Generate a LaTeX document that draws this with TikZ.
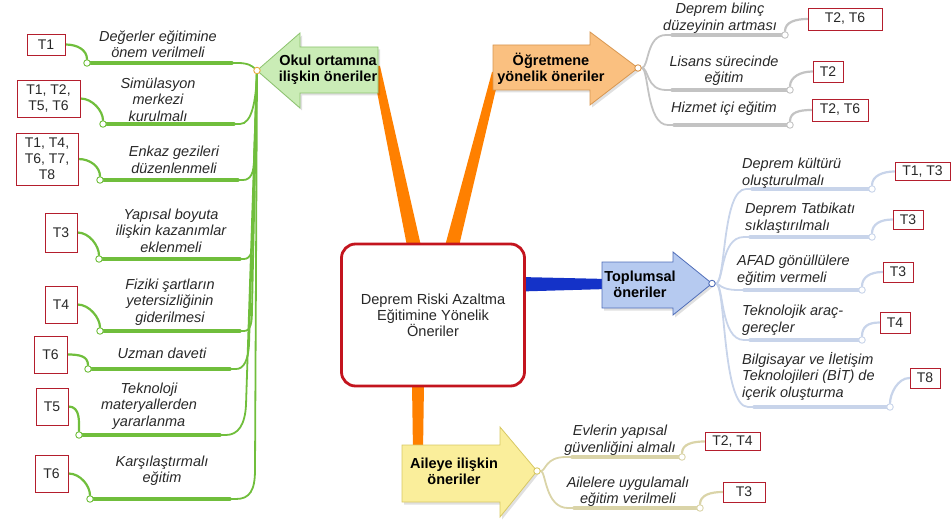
\documentclass[tikz,border=0pt]{standalone}
\usepackage{fontspec}
\setmainfont{Liberation Sans}
\definecolor{okulfill}{RGB}{202,236,182}
\definecolor{okuldraw}{RGB}{140,195,110}
\definecolor{ogfill}{RGB}{250,192,128}
\definecolor{ogdraw}{RGB}{215,150,80}
\definecolor{topfill}{RGB}{182,202,240}
\definecolor{topdraw}{RGB}{80,110,185}
\definecolor{aifill}{RGB}{250,238,155}
\definecolor{aidraw}{RGB}{215,200,100}
\definecolor{branchorange}{RGB}{255,128,0}
\definecolor{branchblue}{RGB}{20,50,200}
\definecolor{leafgreen}{RGB}{112,190,60}
\definecolor{leafgray}{RGB}{195,195,195}
\definecolor{leafblue}{RGB}{200,212,234}
\definecolor{leafolive}{RGB}{218,212,168}
\definecolor{boxred}{RGB}{180,30,45}
\definecolor{centerred}{RGB}{195,20,30}
\definecolor{txtgray}{RGB}{40,40,40}
\definecolor{tipgold}{RGB}{230,170,60}
\pgfdeclarelayer{branchlayer}
\pgfdeclarelayer{linelayer}
\pgfsetlayers{branchlayer,linelayer,main}
\begin{document}
\begin{tikzpicture}[x=1pt,y=-1pt,
  leaftext/.style={font=\fontsize{14.5}{16.5}\selectfont\itshape, text=txtgray, align=center, inner sep=0},
  leafleft/.style={leaftext, align=left, anchor=west},
  refbox/.style={draw=boxred, line width=0.9pt, fill=white, font=\fontsize{14}{16}\selectfont, text=txtgray, inner sep=0, align=center},
  knot/.style={circle, draw=#1, fill=white, line width=0.9pt, minimum size=6.5pt, inner sep=0},
  armtext/.style={font=\fontsize{14.5}{16}\selectfont\bfseries, align=center, inner sep=0, text=black},
  leafstem/.style={draw=#1, line width=1.8pt, line cap=round},
  leafbar/.style={draw=#1, line width=3.4pt, line cap=round},
  leaflink/.style={draw=#1, line width=2.2pt, line cap=round},
  armshadow/.style={fill=black, opacity=0.12},
]
\useasboundingbox (0,0) rectangle (952,521);

% ---------- main branches from the centre ----------
\begin{pgfonlayer}{branchlayer}
  \fill[branchorange] (372,66) -- (380,66) -- (421,246) -- (407,246) -- cycle;
  \fill[branchorange] (445,246) -- (459,246) -- (500,72) -- (492,72) -- cycle;
  \fill[branchorange] (412,384) -- (424,384) -- (423,452) -- (413,452) -- cycle;
  \fill[branchblue] (520,277) -- (520,291.5) -- (608,289) -- (608,279) -- cycle;
\end{pgfonlayer}

% ---------- central topic ----------
\node[draw=centerred, line width=2.8pt, rounded corners=14pt, fill=white,
      minimum width=183pt, minimum height=142pt, align=center, text=txtgray,
      font=\fontsize{14.6}{16}\selectfont] (root) at (433,315)
      {Deprem Riski Azaltma\\Eğitimine Yönelik\\Öneriler};

% ---------- arrow shaped sub-topics ----------
\begin{scope}[shift={(2,2.5)}]
  \fill[armshadow] (378,47) -- (300,47) -- (300,33) -- (257,70.5) -- (300,108) -- (300,93) -- (378,93) -- cycle;
  \fill[armshadow] (493,45) -- (590,45) -- (590,32) -- (638,68) -- (590,105) -- (590,90) -- (493,90) -- cycle;
  \fill[armshadow] (602,262) -- (673,262) -- (673,252) -- (712,283.5) -- (673,315) -- (673,308) -- (602,308) -- cycle;
  \fill[armshadow] (402,445) -- (500,445) -- (500,427) -- (537,471) -- (500,517) -- (500,502) -- (402,502) -- cycle;
\end{scope}
\filldraw[fill=okulfill, draw=okuldraw, line width=0.8pt]
  (378,47) -- (300,47) -- (300,33) -- (257,70.5) -- (300,108) -- (300,93) -- (378,93) -- cycle;
\filldraw[fill=ogfill, draw=ogdraw, line width=0.8pt]
  (493,45) -- (590,45) -- (590,32) -- (638,68) -- (590,105) -- (590,90) -- (493,90) -- cycle;
\filldraw[fill=topfill, draw=topdraw, line width=0.8pt]
  (602,262) -- (673,262) -- (673,252) -- (712,283.5) -- (673,315) -- (673,308) -- (602,308) -- cycle;
\filldraw[fill=aifill, draw=aidraw, line width=0.8pt]
  (402,445) -- (500,445) -- (500,427) -- (537,471) -- (500,517) -- (500,502) -- (402,502) -- cycle;

\node[armtext] (okul) at (328,70) {Okul ortamına\\ilişkin öneriler};
\node[armtext] (ogretmen) at (551,69) {Öğretmene\\yönelik öneriler};
\node[armtext] (toplum) at (640,284.5) {Toplumsal\\öneriler};
\node[armtext] (aile) at (454,471) {Aileye ilişkin\\öneriler};

% ---------- knots at the arrow tips ----------
\node[knot=tipgold] (okultip) at (257,70.5) {};
\node[knot=ogdraw] (ogtip) at (638,68) {};
\node[knot=topdraw] (toptip) at (712,283.5) {};
\node[knot=aidraw] (aitip) at (537,471) {};

% ---------- school branch (left) ----------
\node[leaftext] (l1) at (158,44) {Değerler eğitimine\\önem verilmeli};
\node[leaftext] (l2) at (158,99.5) {Simülasyon\\merkezi\\kurulmalı};
\node[leaftext] (l3) at (174,160) {Enkaz gezileri\\düzenlenmeli};
\node[leaftext] (l4) at (171,230.5) {Yapısal boyuta\\ilişkin kazanımlar\\eklenmeli};
\node[leaftext] (l5) at (170,302) {Fiziki şartların\\yetersizliğinin\\giderilmesi};
\node[leaftext] (l6) at (162,353) {Uzman daveti};
\node[leaftext] (l7) at (149,406) {Teknoloji\\materyallerden\\yararlanma};
\node[leaftext] (l8) at (162,470.5) {Karşılaştırmalı\\eğitim};

\node[knot=leafgreen] (c1) at (87,63) {};
\node[knot=leafgreen] (c2) at (103,124) {};
\node[knot=leafgreen] (c3) at (100,180) {};
\node[knot=leafgreen] (c4) at (99,259) {};
\node[knot=leafgreen] (c5) at (100,331) {};
\node[knot=leafgreen] (c6) at (88,369) {};
\node[knot=leafgreen] (c7) at (79,435) {};
\node[knot=leafgreen] (c8) at (90,499) {};

\node[refbox, minimum width=38pt, minimum height=21pt] (b1) at (46,44.5) {T1};
\node[refbox, minimum width=63pt, minimum height=37pt] (b2) at (48.5,98.5) {T1, T2,\\T5, T6};
\node[refbox, minimum width=62pt, minimum height=52pt] (b3) at (47,159) {T1, T4,\\T6, T7,\\T8};
\node[refbox, minimum width=32pt, minimum height=39pt] (b4) at (61,232.5) {T3};
\node[refbox, minimum width=32pt, minimum height=37pt] (b5) at (61,304.5) {T4};
\node[refbox, minimum width=33pt, minimum height=37pt] (b6) at (50.5,354.5) {T6};
\node[refbox, minimum width=32pt, minimum height=37pt] (b7) at (52,406.5) {T5};
\node[refbox, minimum width=33pt, minimum height=37pt] (b8) at (51.5,473.5) {T6};

\begin{pgfonlayer}{linelayer}
  \draw[leafstem=leafgreen] (c1) -- (238,63) .. controls (248,63) and (252,66) .. (okultip);
  \draw[leafstem=leafgreen] (c2) -- (240,124) .. controls (252,124) and (256,100) .. (okultip);
  \draw[leafstem=leafgreen] (c3) -- (243,180) .. controls (251,180) and (254,172) .. (254,160) -- (okultip);
  \draw[leafstem=leafgreen] (c4) -- (244,259) .. controls (251,259) and (253,250) .. (253,238) -- (okultip);
  \draw[leafstem=leafgreen] (c5) -- (244,331) .. controls (251,331) and (252,322) .. (252,310) -- (okultip);
  \draw[leafstem=leafgreen] (c6) -- (236,369) .. controls (244,369) and (248,360) .. (249,345) -- (okultip);
  \draw[leafstem=leafgreen] (c7) -- (226,435) .. controls (238,435) and (245,425) .. (246,405) -- (okultip);
  \draw[leafstem=leafgreen] (c8) -- (236,499) .. controls (250,499) and (255,490) .. (255,470) -- (okultip);
  \draw[leafbar=leafgreen] (c1) -- (232,63);
  \draw[leafbar=leafgreen] (c2) -- (234,124);
  \draw[leafbar=leafgreen] (c3) -- (238,180);
  \draw[leafbar=leafgreen] (c4) -- (240,259);
  \draw[leafbar=leafgreen] (c5) -- (240,331);
  \draw[leafbar=leafgreen] (c6) -- (230,369);
  \draw[leafbar=leafgreen] (c7) -- (220,435);
  \draw[leafbar=leafgreen] (c8) -- (230,499);
  \foreach \i in {1,...,8}
    \draw[leaflink=leafgreen] (b\i.east) .. controls +(12,0) and +(0,-13) .. (c\i);
\end{pgfonlayer}

% ---------- teacher branch (upper right) ----------
\node[leaftext] (o1) at (720,18.5) {Deprem bilinç\\düzeyinin artması};
\node[leaftext] (o2) at (724,71) {Lisans sürecinde\\eğitim};
\node[leaftext] (o3) at (724,109) {Hizmet içi eğitim};

\node[knot=leafgray] (g1) at (785,35) {};
\node[knot=leafgray] (g2) at (790,90) {};
\node[knot=leafgray] (g3) at (790,125) {};

\node[refbox, minimum width=74pt, minimum height=22pt] (r1) at (845,19) {T2, T6};
\node[refbox, minimum width=30pt, minimum height=21pt] (r2) at (828,71.5) {T2};
\node[refbox, minimum width=56pt, minimum height=22pt] (r3) at (840,110) {T2, T6};

\begin{pgfonlayer}{linelayer}
  \draw[leafstem=leafgray] (ogtip) .. controls (649,68) and (646,35) .. (666,35) -- (g1);
  \draw[leafstem=leafgray] (ogtip) .. controls (649,68) and (646,90) .. (666,90) -- (g2);
  \draw[leafstem=leafgray] (ogtip) .. controls (649,68) and (646,125) .. (668,125) -- (g3);
  \draw[leafbar=leafgray] (672,35) -- (g1);
  \draw[leafbar=leafgray] (672,90) -- (g2);
  \draw[leafbar=leafgray] (674,125) -- (g3);
  \foreach \i in {1,2,3}
    \draw[leaflink=leafgray] (g\i) .. controls +(0,-13) and +(-12,0) .. (r\i.west);
\end{pgfonlayer}

% ---------- society branch (right) ----------
\node[leafleft] (s1) at (742,173.5) {Deprem kültürü\\oluşturulmalı};
\node[leafleft] (s2) at (745,218.5) {Deprem Tatbikatı\\sıklaştırılmalı};
\node[leafleft] (s3) at (737,270.5) {AFAD gönüllülere\\eğitim vermeli};
\node[leafleft] (s4) at (742,320) {Teknolojik araç-\\gereçler};
\node[leafleft] (s5) at (742,376) {Bilgisayar ve İletişim\\Teknolojileri (BİT) de\\içerik oluşturma};

\node[knot=leafblue] (k1) at (872,189) {};
\node[knot=leafblue] (k2) at (872,237) {};
\node[knot=leafblue] (k3) at (862,290) {};
\node[knot=leafblue] (k4) at (862,340) {};
\node[knot=leafblue] (k5) at (890,407) {};

\node[refbox, minimum width=55pt, minimum height=18pt] (p1) at (922.5,171.5) {T1, T3};
\node[refbox, minimum width=30pt, minimum height=19pt] (p2) at (908,219.5) {T3};
\node[refbox, minimum width=30pt, minimum height=20pt] (p3) at (898,272) {T3};
\node[refbox, minimum width=30pt, minimum height=21pt] (p4) at (895,322.5) {T4};
\node[refbox, minimum width=30pt, minimum height=20pt] (p5) at (925,378) {T8};

\begin{pgfonlayer}{linelayer}
  \draw[leafstem=leafblue] (toptip) .. controls (726,283.5) and (722,189) .. (746,189) -- (k1);
  \draw[leafstem=leafblue] (toptip) .. controls (724,283.5) and (720,237) .. (744,237) -- (k2);
  \draw[leafstem=leafblue] (toptip) .. controls (720,283.5) and (720,290) .. (738,290) -- (k3);
  \draw[leafstem=leafblue] (toptip) .. controls (724,283.5) and (720,340) .. (744,340) -- (k4);
  \draw[leafstem=leafblue] (toptip) .. controls (726,283.5) and (722,407) .. (748,407) -- (k5);
  \draw[leafbar=leafblue] (752,189) -- (k1);
  \draw[leafbar=leafblue] (750,237) -- (k2);
  \draw[leafbar=leafblue] (744,290) -- (k3);
  \draw[leafbar=leafblue] (750,340) -- (k4);
  \draw[leafbar=leafblue] (754,407) -- (k5);
  \foreach \i in {1,...,5}
    \draw[leaflink=leafblue] (k\i) .. controls +(0,-13) and +(-12,0) .. (p\i.west);
\end{pgfonlayer}

% ---------- family branch (bottom) ----------
\node[leaftext] (f1) at (620,440) {Evlerin yapısal\\güvenliğini almalı};
\node[leaftext] (f2) at (628,491.5) {Ailelere uygulamalı\\eğitim verilmeli};

\node[knot=leafolive] (h1) at (682,457) {};
\node[knot=leafolive] (h2) at (700,508) {};

\node[refbox, minimum width=55pt, minimum height=18pt] (q1) at (732.5,441.5) {T2, T4};
\node[refbox, minimum width=42pt, minimum height=20pt] (q2) at (744,492) {T3};

\begin{pgfonlayer}{linelayer}
  \draw[leafstem=leafolive] (aitip) .. controls (546,471) and (545,457) .. (566,457) -- (h1);
  \draw[leafstem=leafolive] (aitip) .. controls (546,471) and (545,508) .. (568,508) -- (h2);
  \draw[leafbar=leafolive] (572,457) -- (h1);
  \draw[leafbar=leafolive] (574,508) -- (h2);
  \foreach \i in {1,2}
    \draw[leaflink=leafolive] (h\i) .. controls +(0,-13) and +(-12,0) .. (q\i.west);
\end{pgfonlayer}
\end{tikzpicture}
\end{document}
